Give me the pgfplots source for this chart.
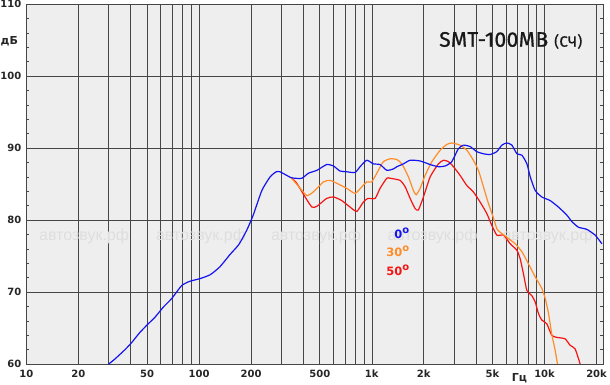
\documentclass[border=0pt]{standalone}
\usepackage{fontspec}
\setmainfont{DejaVu Sans}
\newfontfamily\titlefont[FakeBold=0.7,LetterSpace=2]{Fira Sans}
\newfontfamily\wmfont{Liberation Sans}
\usepackage{pgfplots}
\pgfplotsset{compat=1.18}
\definecolor{cblue}{RGB}{20,20,240}
\definecolor{corange}{RGB}{255,140,40}
\definecolor{cred}{RGB}{245,20,20}
\definecolor{bg}{RGB}{238,238,238}
\definecolor{gridc}{RGB}{70,70,70}
\tikzset{wm/.style={anchor=base, inner sep=0, font=\wmfont\fontsize{16}{16}\selectfont, text=black!13}}

\pgfplotstableread{
f db
30.0 60.0
32.6 60.7
37.3 62.0
40.8 63.0
45.5 64.4
50.9 65.6
55.6 66.5
62.1 67.9
69.5 69.1
79.4 70.9
88.7 71.5
101 71.85
116 72.4
132 73.5
151 75.2
170 76.6
189 78.6
206 80.7
231 84.1
258 86.0
280 86.7
294 86.7
305 86.5
340 85.9
360 85.8
394 85.8
430 86.5
481 86.9
548 87.7
600 87.5
655 86.8
716 86.7
800 86.6
855 87.4
935 88.3
1021 87.8
1117 87.7
1221 86.9
1335 87.1
1396 87.4
1525 87.8
1667 88.3
1905 88.2
2178 87.7
2432 87.4
2657 87.5
2904 88.1
3170 89.9
3390 90.4
3706 90.2
4053 89.5
4429 89.2
4842 89.1
5293 89.5
5662 90.4
6053 90.7
6471 90.4
6918 89.2
7396 89.0
7907 87.8
8264 86.0
8832 84.1
9645 83.2
10770 82.7
12030 81.8
13440 80.7
14370 79.8
15710 79.0
17570 78.7
19630 77.9
21480 76.7
}\blue

\pgfplotstableread{
f db
340 85.9
352 85.5
385 84.4
421 83.4
459 83.9
525 85.3
573 85.5
627 85.1
716 84.4
800 83.7
875 84.6
935 85.3
1000 85.3
1091 86.9
1167 88.1
1276 88.5
1396 88.4
1493 87.8
1629 86.0
1741 84.1
1806 83.5
1905 84.4
2036 86.2
2228 88.1
2489 89.7
2722 90.5
2904 90.7
3243 90.4
3548 89.7
3873 88.3
4141 86.9
4429 84.6
4733 82.3
5059 80.3
5293 78.8
5532 78.3
6053 77.6
6760 76.7
7396 75.6
8074 73.9
8832 72.1
9645 70.5
10090 69.1
10550 67.0
11000 64.2
11520 61.9
11880 60.0
}\orange

\pgfplotstableread{
f db
345 85.8
368 85.1
411 83.2
450 81.8
481 81.9
548 83.0
600 83.2
670 82.7
748 81.8
819 81.2
894 82.5
950 83.0
1045 83.0
1117 84.4
1221 85.8
1276 85.8
1459 85.5
1561 84.6
1667 83.0
1780 81.6
1861 81.4
1991 83.2
2178 86.0
2432 87.8
2600 88.3
2780 88.1
2971 87.4
3243 86.2
3548 84.8
3873 83.9
4236 82.5
4632 80.9
4900 79.5
5293 77.9
5790 77.9
6325 76.7
6918 75.8
7228 74.6
7554 72.5
7907 70.2
8435 69.5
8832 68.6
9226 67.0
9645 66.1
10300 65.6
11000 64.0
11770 63.7
13140 63.5
14060 62.6
15030 62.1
16070 60.0
}\red

\begin{document}
\begin{tikzpicture}[x=1pt,y=1pt]
\useasboundingbox (0,0) rectangle (610,384);
\begin{axis}[
  at={(26.3pt,20pt)}, anchor=south west,
  scale only axis, width=576.7pt, height=360pt,
  xmode=log, xmin=10, xmax=21800, ymin=60, ymax=110,
  axis background/.style={fill=bg},
  axis line style={gridc, line width=0.7pt},
  xtick={10,20,50,100,200,500,1000,2000,5000,10000,20000},
  xticklabels={10,20,50,100,200,500,1k,2k,5k,10k,20k},
  minor xtick={30,40,60,70,80,90,300,400,600,700,800,900,3000,4000,6000,7000,8000,9000},
  ytick={60,70,...,110},
  minor ytick={62,64,...,108},
  xmajorgrids, xminorgrids, ymajorgrids,
  grid style={gridc, line width=0.6pt},
  minor grid style={gridc, line width=0.6pt},
  tick align=inside,
  major tick length=0pt,
  minor tick length=3pt,
  minor y tick style={gridc, line width=0.5pt},
  minor x tick style={draw=none},
  tick label style={font=\bfseries\fontsize{10}{12}\selectfont, text=black!85},
  /pgf/number format/assume math mode=true,
  yticklabel style={xshift=-1.5pt},
  xticklabel style={yshift=-2.5pt},
]
\node[wm] at (axis description cs:0.1002,0.3444) {автозвук.рф};
\node[wm] at (axis description cs:0.3029,0.3444) {автозвук.рф};
\node[wm] at (axis description cs:0.5023,0.3444) {автозвук.рф};
\node[wm] at (axis description cs:0.7043,0.3444) {автозвук.рф};
\node[wm] at (axis description cs:0.9038,0.3444) {автозвук.рф};
\addplot[cred, line width=1.2pt, no marks, smooth, tension=0.35] table[x=f,y=db] {\red};
\addplot[corange, line width=1.2pt, no marks, smooth, tension=0.35] table[x=f,y=db] {\orange};
\addplot[cblue, line width=1.2pt, no marks, smooth, tension=0.35] table[x=f,y=db] {\blue};
\end{axis}
\node[anchor=base west, inner sep=0, font=\titlefont\fontsize{21}{21}\selectfont, text=black!90] at (439,337.3) {SMT-100MB};
\node[anchor=base west, inner sep=0, font=\titlefont\fontsize{15}{15}\selectfont, text=black!90] at (554,337.3) {(СЧ)};
\node[anchor=base west, inner sep=0, font=\bfseries\fontsize{11}{11}\selectfont, text=black!85] at (0.5,340) {дБ};
\node[anchor=base west, inner sep=0, font=\bfseries\fontsize{11}{11}\selectfont, text=black!85] at (511.7,2.8) {Гц};
\node[anchor=base east, inner sep=0, font=\bfseries\fontsize{11.5}{12}\selectfont, text=cblue] at (409.5,145.7) {0\raisebox{5pt}{\fontsize{10}{10}\selectfont o}};
\node[anchor=base east, inner sep=0, font=\bfseries\fontsize{11.5}{12}\selectfont, text=corange] at (409.5,127.3) {30\raisebox{5pt}{\fontsize{10}{10}\selectfont o}};
\node[anchor=base east, inner sep=0, font=\bfseries\fontsize{11.5}{12}\selectfont, text=cred] at (409.5,109) {50\raisebox{5pt}{\fontsize{10}{10}\selectfont o}};
\end{tikzpicture}
\end{document}
